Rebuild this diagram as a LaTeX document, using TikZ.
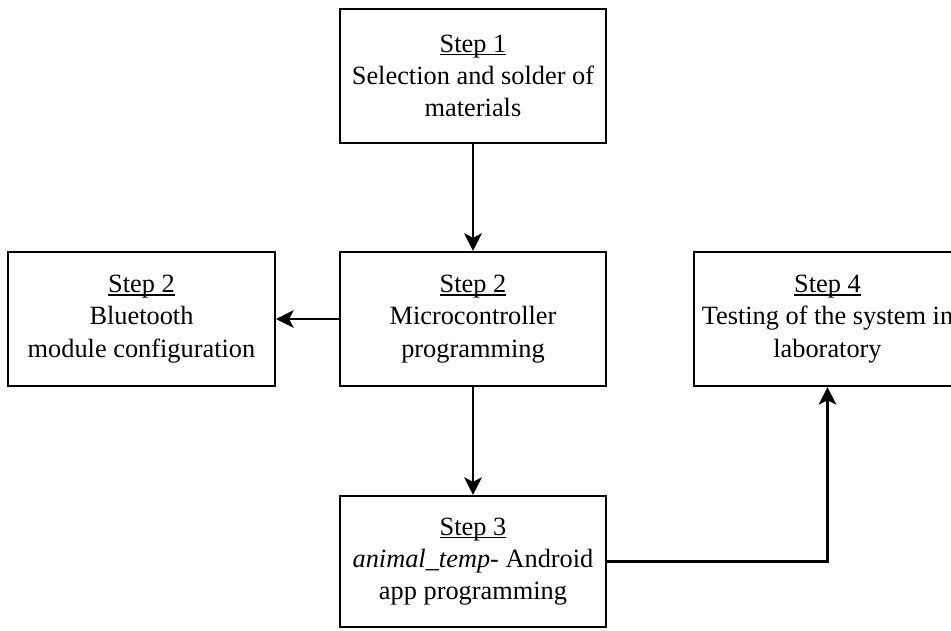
\documentclass[tikz,border=0pt]{standalone}
\usepackage{fontspec}
\setmainfont{Liberation Serif}
\usetikzlibrary{arrows.meta}

% underline set close beneath the baseline
\newcommand{\stepul}[1]{\leavevmode\setbox0\hbox{#1}\rlap{\rule[-1.6pt]{\wd0}{0.7pt}}\box0}

\begin{document}
\begin{tikzpicture}[x=0.02cm, y=-0.02cm,
  stepbox/.style={draw, line width=1.2pt, rectangle, align=center,
    inner sep=0pt, font=\fontsize{15}{18.3}\selectfont},
  flow/.style={draw, line width=1.2pt,
    -{Stealth[length=10pt, width=10pt, inset=2.5pt]}}]
  % page frame and clip
  \useasboundingbox (0,0) rectangle (951,630);
  \clip (0,0) rectangle (951,630);

  % boxes
  \node[stepbox, minimum width=5.32cm, minimum height=2.68cm] (s1) at (473,76)
    {\stepul{Step 1}\\Selection and solder of\\materials};
  \node[stepbox, minimum width=5.34cm, minimum height=2.68cm] (s2b) at (141.5,319)
    {\stepul{Step 2}\\Bluetooth\\module configuration};
  \node[stepbox, minimum width=5.32cm, minimum height=2.68cm] (s2m) at (473,319)
    {\stepul{Step 2}\\Microcontroller\\programming};
  \node[stepbox, minimum width=5.34cm, minimum height=2.68cm] (s4) at (827.5,319)
    {\stepul{Step 4}\\Testing of the system in\\laboratory};
  \node[stepbox, minimum width=5.32cm, minimum height=2.62cm] (s3) at (473,561.5)
    {\stepul{Step 3}\\\textit{animal\_temp}- Android\\app programming};

  % connectors
  \draw[flow] (s1) -- (s2m);
  \draw[flow] (s2m) -- (s2b);
  \draw[flow] (s2m) -- (s3);
  \draw[flow] (s3.east) -| (s4.south);
\end{tikzpicture}
\end{document}
